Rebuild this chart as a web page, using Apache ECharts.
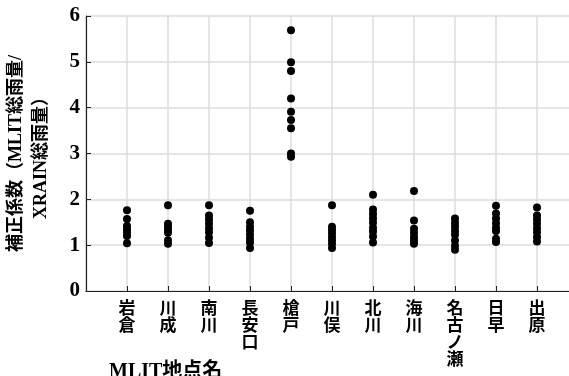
<!DOCTYPE html>
<html>
<head>
<meta charset="utf-8">
<script src="https://cdn.jsdelivr.net/npm/echarts@6/dist/echarts.min.js"></script>
<style>html,body{margin:0;padding:0;background:#fff;}#c{width:569px;height:376px;}</style>
</head>
<body>
<div id="c"></div>
<script>
const categories = ['岩倉','川成','南川','長安口','槍戸','川俣','北川','海川','名古ノ瀬','日早','出原','小見野々'];
const yTicks = [0,1,2,3,4,5,6];
const v_iwakura = [1.76, 1.57, 1.42, 1.35, 1.28, 1.20, 1.04];
const v_kawanari = [1.87, 1.47, 1.40, 1.34, 1.27, 1.11, 1.03];
const v_minamigawa = [1.87, 1.65, 1.56, 1.47, 1.37, 1.28, 1.16, 1.05];
const v_nagayasuguchi = [1.75, 1.50, 1.40, 1.32, 1.23, 1.14, 1.06, 0.94];
const v_yarido = [5.69, 4.99, 4.80, 4.20, 3.91, 3.73, 3.55, 3.00, 2.93];
const v_kawamata = [1.87, 1.40, 1.33, 1.26, 1.18, 1.11, 1.03, 0.94];
const v_kitagawa = [2.10, 1.78, 1.68, 1.58, 1.49, 1.38, 1.30, 1.19, 1.06];
const v_kaigawa = [2.18, 1.54, 1.36, 1.27, 1.18, 1.10, 1.03];
const v_nagonose = [1.58, 1.49, 1.40, 1.31, 1.23, 1.10, 0.99, 0.90];
const v_hisou = [1.86, 1.69, 1.58, 1.48, 1.38, 1.31, 1.14, 1.07];
const v_izuhara = [1.82, 1.65, 1.56, 1.47, 1.37, 1.28, 1.18, 1.08];
const v_omino = [];
const seriesValues = [v_iwakura, v_kawanari, v_minamigawa, v_nagayasuguchi, v_yarido, v_kawamata, v_kitagawa, v_kaigawa, v_nagonose, v_hisou, v_izuhara, v_omino];

const points = [];
seriesValues.forEach((arr, i) => arr.forEach(v => points.push([i + 1, v])));

const FONT = "'Liberation Serif', 'Noto Sans CJK JP', serif";
const chart = echarts.init(document.getElementById('c'), null, {renderer: 'canvas'});
chart.setOption({
  animation: false,
  title: {
    text: 'MLIT地点名', left: 104, top: 357,
    textStyle: {fontFamily: FONT, fontSize: 20, fontWeight: 'bold', color: '#000'}
  },
  grid: {left: 86, top: 16, bottom: 85, right: -50, containLabel: false, outerBoundsMode: 'none'},
  xAxis: {
    type: 'value', min: 0, max: 13, interval: 1,
    axisLine: {show: true, lineStyle: {color: '#222', width: 1.2}},
    axisTick: {show: true, inside: true, length: 5, lineStyle: {color: '#222'}},
    splitLine: {show: true, lineStyle: {color: '#dcdcdc', width: 1.5}},
    axisLabel: {
      margin: 10, fontFamily: FONT, fontSize: 17, fontWeight: 'bold', color: '#000', lineHeight: 17,
      showMinLabel: true, showMaxLabel: true,
      formatter: v => (v >= 1 && v <= categories.length) ? categories[v - 1].split('').join('\n') : ''
    }
  },
  yAxis: {
    type: 'value', min: yTicks[0], max: yTicks[yTicks.length - 1], interval: 1,
    name: '補正係数（MLIT総雨量/\nXRAIN総雨量）',
    nameLocation: 'middle', nameGap: 32, nameRotate: 90,
    nameTextStyle: {fontFamily: FONT, fontSize: 18, fontWeight: 'bold', color: '#000', lineHeight: 25},
    axisLine: {show: true, lineStyle: {color: '#222', width: 1.2}},
    axisTick: {show: true, inside: true, length: 5, lineStyle: {color: '#222'}},
    splitLine: {show: true, lineStyle: {color: '#dcdcdc', width: 1.5}},
    axisLabel: {margin: 6, fontFamily: FONT, fontSize: 21, fontWeight: 'bold', color: '#000'}
  },
  series: [{
    type: 'scatter', data: points, symbol: 'circle', symbolSize: 8,
    itemStyle: {color: '#000', opacity: 1}
  }]
});
</script>
</body>
</html>
